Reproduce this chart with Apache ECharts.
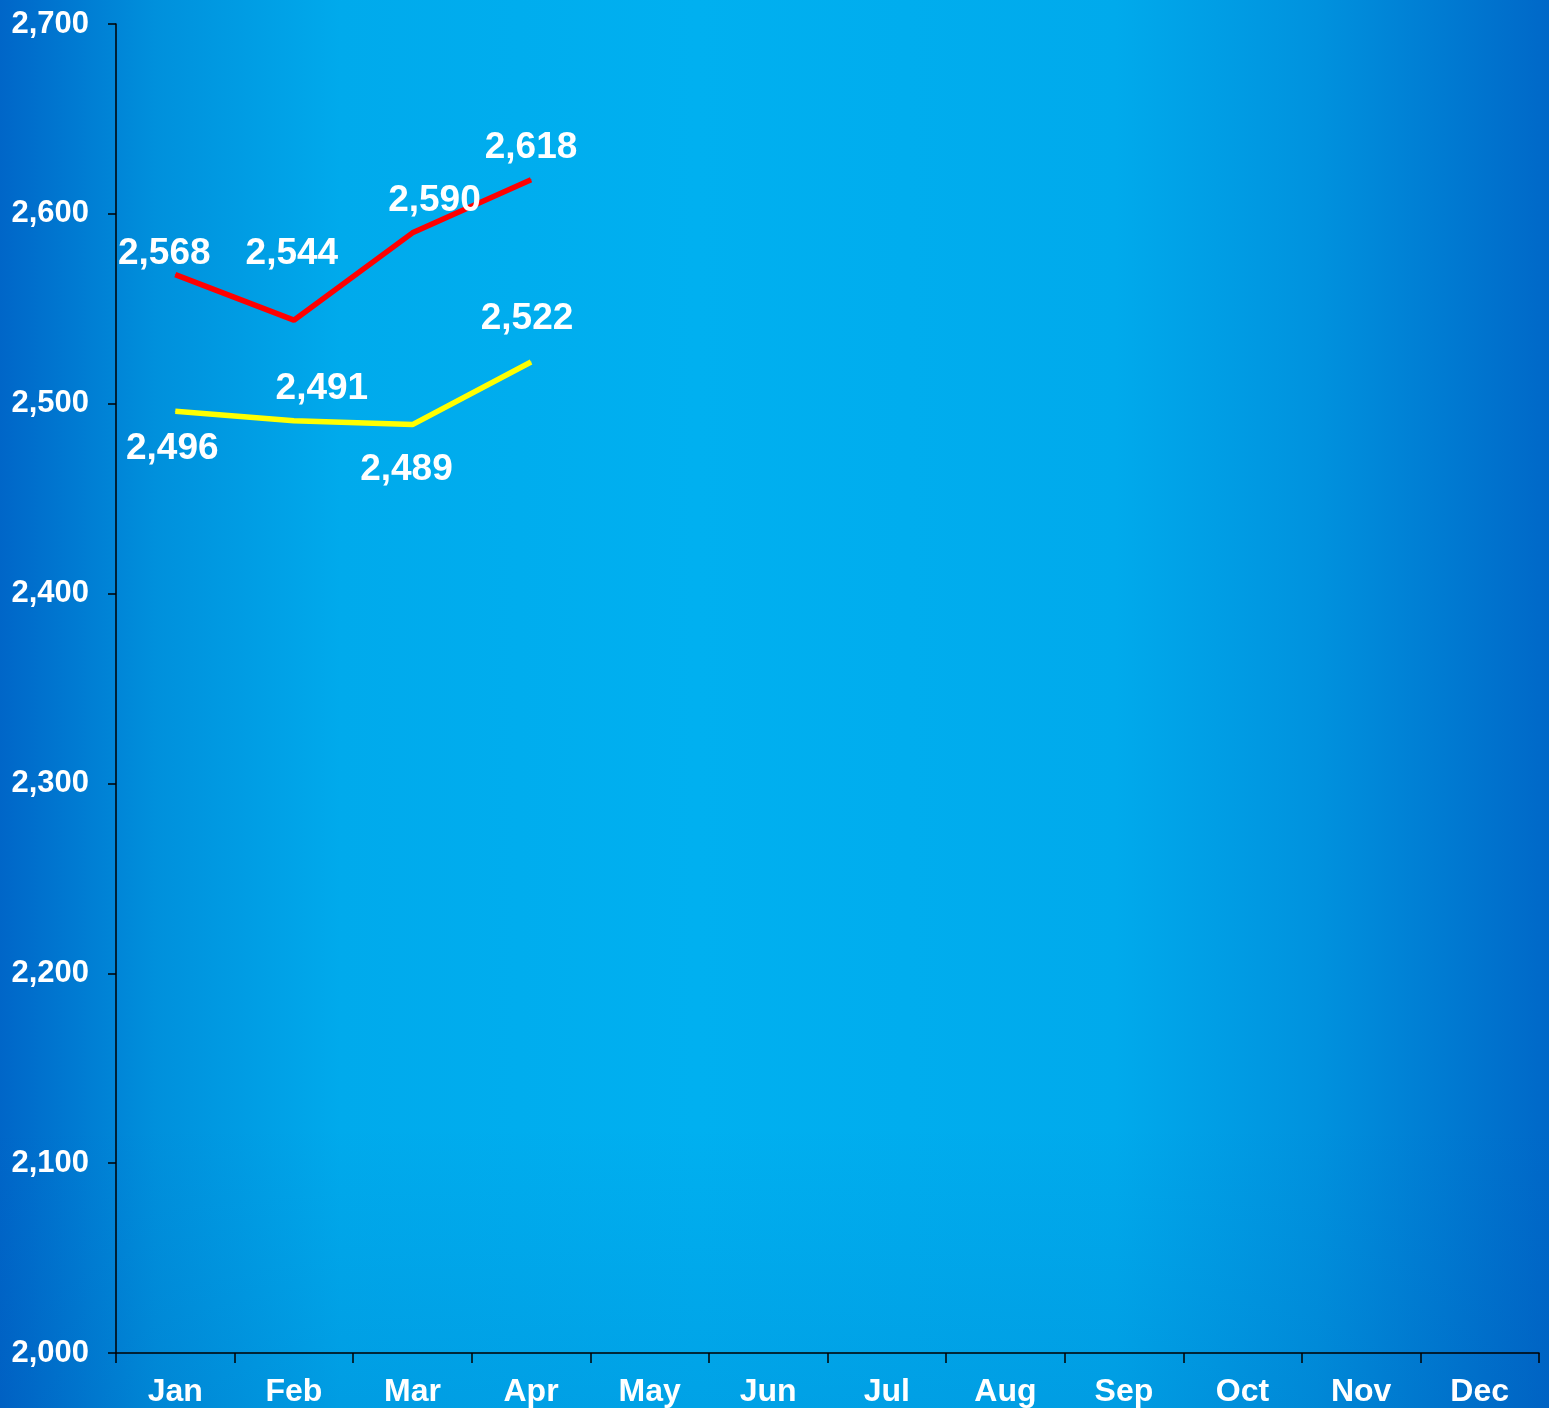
<!DOCTYPE html>
<html>
<head>
<meta charset="utf-8">
<script src="https://cdn.jsdelivr.net/npm/echarts@6/dist/echarts.min.js"></script>
<style>
html,body{margin:0;padding:0;}
#c{width:1549px;height:1408px;
background:
 linear-gradient(180deg, rgba(0,60,160,0) 0%, rgba(0,60,160,0) 80%, rgba(0,60,160,0.12) 100%),
 linear-gradient(90deg, #0066c8 0%, #0090dc 10%, #00aaec 22%, #00b0f0 45%, #00aaec 72%, #0092de 85%, #0068c8 100%);}
</style>
</head>
<body>
<div id="c"></div>
<script>
const months = ['Jan','Feb','Mar','Apr','May','Jun','Jul','Aug','Sep','Oct','Nov','Dec'];
const redValues = [2568, 2544, 2590, 2618];
const yellowValues = [2496, 2491, 2489, 2522];
const yMin = 2000, yMax = 2700, yStep = 100;

// label placement (style only)
const redOffsets = [[-11,-21],[-2,-66],[22,-32],[0,-32]];
const yellowOffsets = [[-3,37],[28,-32],[-6,45],[-4,-43]];
const font = 'Arial, "Liberation Sans", sans-serif';
const labelStyle = {show:true, position:'inside', color:'#fff', fontSize:37, fontWeight:'bold', fontFamily:font,
  formatter: p => p.value.toLocaleString('en-US')};

const mk = (vals, offs) => vals.map((v,i)=>({value:v, label:{offset:offs[i]}}));

const chart = echarts.init(document.getElementById('c'), null, {renderer:'canvas'});
chart.setOption({
  backgroundColor: 'transparent',
  animation: false,
  grid: {left:116, right:10, top:24, bottom:54, containLabel:false},
  xAxis: {
    type:'category', data: months, boundaryGap:true,
    axisLine:{lineStyle:{color:'#000', width:1.5}},
    axisTick:{show:true, length:10, lineStyle:{color:'#000', width:1.5}},
    axisLabel:{color:'#fff', fontSize:32, fontWeight:'bold', fontFamily:font, margin:23}
  },
  yAxis: {
    type:'value', min:yMin, max:yMax, interval:yStep,
    splitLine:{show:false},
    axisLine:{show:true, lineStyle:{color:'#000', width:1.5}},
    axisTick:{show:true, length:8, lineStyle:{color:'#000', width:1.5}},
    axisLabel:{color:'#fff', fontSize:31, fontWeight:'bold', fontFamily:font, margin:27,
      formatter: v => v.toLocaleString('en-US')}
  },
  series: [
    {type:'line', data: mk(redValues, redOffsets), symbol:'circle', symbolSize:1,
     itemStyle:{color:'#ff0000'}, lineStyle:{color:'#ff0000', width:5.5},
     label: labelStyle},
    {type:'line', data: mk(yellowValues, yellowOffsets), symbol:'circle', symbolSize:1,
     itemStyle:{color:'#ffff00'}, lineStyle:{color:'#ffff00', width:5.5},
     label: labelStyle}
  ]
});
</script>
</body>
</html>
